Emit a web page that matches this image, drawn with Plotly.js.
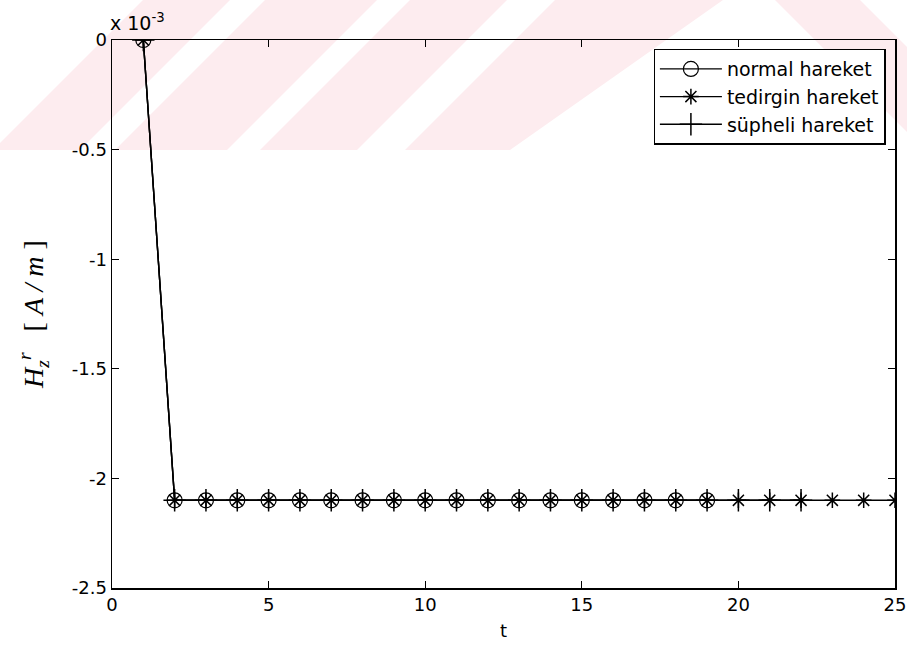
<!DOCTYPE html>
<html><head><meta charset="utf-8">
<script src="https://cdn.plot.ly/plotly-3.0.1.min.js"></script>
<style>html,body{margin:0;padding:0;background:#fff}#chart{width:907px;height:648px}</style>
</head><body><div id="chart"></div>
<script>
// values in units of 1e-3 A/m
const tNormal = [1,2,3,4,5,6,7,8,9,10,11,12,13,14,15,16,17,18,19];
const hNormal = [0,-2.1,-2.1,-2.1,-2.1,-2.1,-2.1,-2.1,-2.1,-2.1,-2.1,-2.1,-2.1,-2.1,-2.1,-2.1,-2.1,-2.1,-2.1];
const tTedirgin = [1,2,3,4,5,6,7,8,9,10,11,12,13,14,15,16,17,18,19,20,21,22,23,24,25];
const hTedirgin = [0,-2.1,-2.1,-2.1,-2.1,-2.1,-2.1,-2.1,-2.1,-2.1,-2.1,-2.1,-2.1,-2.1,-2.1,-2.1,-2.1,-2.1,-2.1,-2.1,-2.1,-2.1,-2.1,-2.1,-2.1];
const tSupheli = [1,2,3,4,5,6,7,8,9,10,11,12,13,14,15,16,17,18,19,20,21,22];
const hSupheli = [0,-2.1,-2.1,-2.1,-2.1,-2.1,-2.1,-2.1,-2.1,-2.1,-2.1,-2.1,-2.1,-2.1,-2.1,-2.1,-2.1,-2.1,-2.1,-2.1,-2.1,-2.1];
const xTicks = [0,5,10,15,20,25];
const yTicks = [0,-0.5,-1,-1.5,-2,-2.5];
const yTickText = ['0','-0.5','-1','-1.5','-2','-2.5'];

const W = 907, H = 648, ML = 112, MR = 12, MT = 40, MB = 60;
// faint pink watermark bands (background decoration), given in page pixels
const watermark = [
  [[143,0],[230,0],[80,150],[-7,150]],
  [[265,0],[377,0],[227,150],[115,150]],
  [[410,0],[507,0],[357,150],[260,150]],
  [[555,0],[723,0],[510,150],[405,150]],
  [[775,0],[860,0],[907,47],[907,132]]
];
function px2paper(p){ return [(p[0]-ML)/(W-ML-MR), (H-MB-p[1])/(H-MT-MB)]; }
const shapes = watermark.map(poly => ({
  type:'path', xref:'paper', yref:'paper', layer:'below', line:{width:0},
  fillcolor:'rgb(253,236,239)',
  path: poly.map((p,i)=>{const q=px2paper(p); return (i?'L':'M')+q[0]+','+q[1];}).join('')+'Z'
}));

const lineStyle = {color:'#000', width:1.4};
const traces = [
  {x:tNormal, y:hNormal, name:'normal hareket', mode:'lines+markers', line:lineStyle,
   marker:{symbol:'circle-open', size:15, color:'#000', line:{width:1.2, color:'#000'}}},
  {x:tTedirgin, y:hTedirgin, name:'tedirgin hareket', mode:'lines+markers', line:lineStyle,
   marker:{symbol:'asterisk-open', size:13, color:'#000', line:{width:1.5, color:'#000'}}},
  {x:tSupheli, y:hSupheli, name:'süpheli hareket', mode:'lines+markers', line:lineStyle,
   marker:{symbol:'cross-thin-open', size:16, color:'#000', line:{width:1.5, color:'#000'}}}
];

const sans = 'DejaVu Sans, Arial, sans-serif';
const axisCommon = {showgrid:false, zeroline:false, showline:true, linecolor:'#000', linewidth:1.5,
  mirror:'ticks', ticks:'inside', ticklen:7, tickcolor:'#000', tickwidth:1.3,
  tickfont:{family:sans, size:18, color:'#000'}};

const layout = {
  width:W, height:H,
  margin:{l:ML, r:MR, t:MT, b:MB},
  paper_bgcolor:'#fff', plot_bgcolor:'rgba(0,0,0,0)',
  showlegend:true, shapes:shapes,
  legend:{x:0.988, y:0.984, xanchor:'right', yanchor:'top', bgcolor:'#fff',
    bordercolor:'#000', borderwidth:1.3, tracegroupgap:0, itemwidth:62,
    font:{family:sans, size:19, color:'#000'}},
  xaxis:Object.assign({}, axisCommon, {range:[0,25], tickvals:xTicks,
    title:{text:'t', font:{family:sans, size:18, color:'#000'}, standoff:10}}),
  yaxis:Object.assign({}, axisCommon, {range:[-2.5,0], tickvals:yTicks, ticktext:yTickText,
    title:{text:'<i>H</i><sub><i>z</i></sub><sup><i>r</i></sup>&nbsp;&nbsp; [ <i>A / m</i> ]', font:{family:'Liberation Serif, Times New Roman, serif', size:28, color:'#000'}, standoff:20}}),
  annotations:[{xref:'paper', yref:'paper', x:0, y:1, xanchor:'left', yanchor:'bottom', yshift:4, xshift:-4,
    showarrow:false, text:'x 10<sup>-3</sup>', font:{family:sans, size:19, color:'#000'}}]
};
Plotly.newPlot('chart', traces, layout, {staticPlot:true});
</script></body></html>
